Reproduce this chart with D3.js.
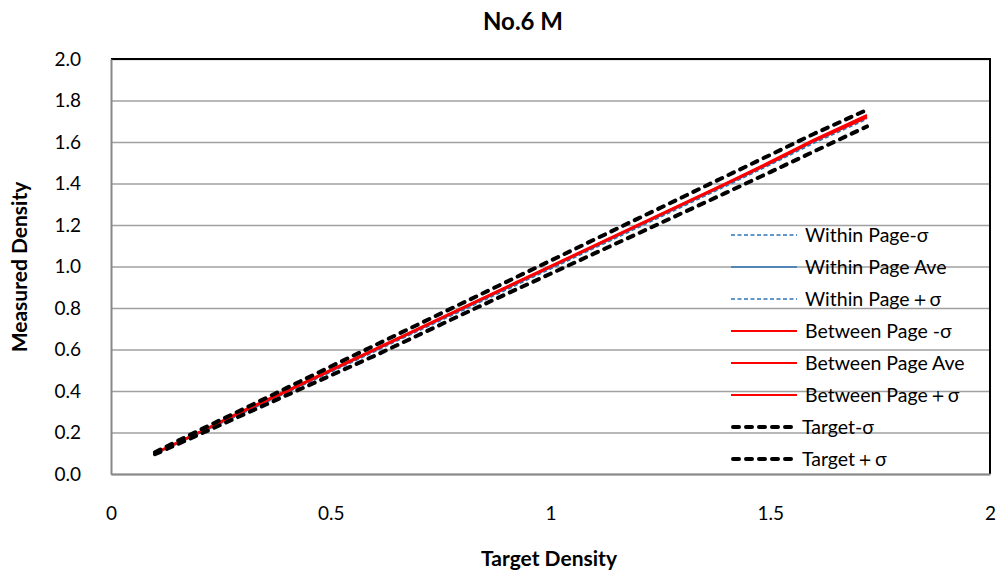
<!DOCTYPE html>
<html>
<head>
<meta charset="utf-8">
<script src="https://cdn.jsdelivr.net/npm/d3@7"></script>
<style>
  body { margin: 0; background: #fff; }
  text { font-family: Lato, "Open Sans", sans-serif; fill: #000; }
  .tick-text { font-size: 19px; }
  .title-text { font-size: 24px; font-weight: bold; }
  .axis-title { font-size: 21px; font-weight: bold; }
  .legend-text { font-size: 19.5px; }
</style>
</head>
<body>
<div id="chart"></div>
<script>
// target density on x, measured density on y
const targetDensity = [0.10, 0.20, 0.30, 0.40, 0.50, 0.60, 0.70, 0.80, 0.90, 1.00, 1.10, 1.20, 1.30, 1.40, 1.50, 1.60, 1.72];

const withinMinus = [0.095, 0.195, 0.293, 0.392, 0.490, 0.590, 0.690, 0.788, 0.888, 0.988, 1.088, 1.188, 1.288, 1.388, 1.490, 1.595, 1.710];
const withinAve   = [0.098, 0.198, 0.297, 0.396, 0.495, 0.595, 0.695, 0.794, 0.894, 0.994, 1.094, 1.194, 1.294, 1.394, 1.495, 1.602, 1.718];
const withinPlus  = [0.100, 0.201, 0.300, 0.400, 0.499, 0.599, 0.699, 0.799, 0.899, 0.999, 1.099, 1.199, 1.299, 1.399, 1.500, 1.607, 1.722];

const betweenMinus = [0.098, 0.198, 0.300, 0.397, 0.497, 0.597, 0.697, 0.797, 0.897, 0.997, 1.097, 1.197, 1.297, 1.397, 1.498, 1.605, 1.718];
const betweenAve   = [0.100, 0.200, 0.303, 0.400, 0.500, 0.600, 0.700, 0.800, 0.900, 1.000, 1.100, 1.200, 1.300, 1.400, 1.502, 1.609, 1.724];
const betweenPlus  = [0.102, 0.202, 0.306, 0.403, 0.503, 0.603, 0.703, 0.803, 0.903, 1.003, 1.103, 1.203, 1.303, 1.403, 1.506, 1.613, 1.730];

const targetMinus = [0.095, 0.190, 0.285, 0.380, 0.475, 0.570, 0.670, 0.770, 0.868, 0.965, 1.063, 1.160, 1.258, 1.356, 1.455, 1.555, 1.675];
const targetPlus  = [0.105, 0.210, 0.312, 0.415, 0.518, 0.620, 0.722, 0.824, 0.926, 1.028, 1.130, 1.232, 1.334, 1.436, 1.538, 1.640, 1.755];

const seriesNames = [
  "Within Page-σ", "Within Page Ave", "Within Page＋σ",
  "Between Page -σ", "Between Page Ave", "Between Page＋σ",
  "Target-σ", "Target＋σ"
];
const seriesValues = [withinMinus, withinAve, withinPlus, betweenMinus, betweenAve, betweenPlus, targetMinus, targetPlus];

const xTicks = [0, 0.5, 1, 1.5, 2];
const yTicks = [0, 0.2, 0.4, 0.6, 0.8, 1.0, 1.2, 1.4, 1.6, 1.8, 2.0];

const seriesStyle = [
  { color: "#2e75b6", width: 1.5, dash: "4,2.5", cap: "butt" },
  { color: "#2e75b6", width: 1.5, dash: null, cap: "butt" },
  { color: "#2e75b6", width: 1.5, dash: "4,2.5", cap: "butt" },
  { color: "#ff0000", width: 2, dash: null, cap: "butt" },
  { color: "#ff0000", width: 2, dash: null, cap: "butt" },
  { color: "#ff0000", width: 2, dash: null, cap: "butt" },
  { color: "#000000", width: 4, dash: "6,7", cap: "round" },
  { color: "#000000", width: 4, dash: "6,7", cap: "round" }
];

const W = 1000, H = 572;
const margin = { top: 59, right: 10, bottom: 98, left: 111 };
const width = W - margin.left - margin.right;
const height = H - margin.top - margin.bottom;

const svg = d3.select("#chart").append("svg")
  .attr("width", W)
  .attr("height", H);

const g = svg.append("g")
  .attr("transform", `translate(${margin.left},${margin.top})`);

const x = d3.scaleLinear().domain([0, 2]).range([0, width]);
const y = d3.scaleLinear().domain([0, 2]).range([height, 0]);

// Grid lines
g.append("g")
  .call(d3.axisLeft(y).tickValues(yTicks).tickSize(-width).tickFormat(""))
  .call(s => s.select(".domain").remove())
  .selectAll("line")
  .attr("stroke", "#a0a0a0")
  .attr("stroke-width", 1.5);

// plot border (top and right black)
g.append("path")
  .attr("d", `M0,0H${width}V${height}`)
  .attr("fill", "none")
  .attr("stroke", "#000")
  .attr("stroke-width", 2);

// Axes
const xAxis = g.append("g")
  .attr("transform", `translate(0,${height})`)
  .call(d3.axisBottom(x).tickValues(xTicks).tickSize(0).tickPadding(33).tickFormat(d3.format("")));
xAxis.select(".domain").attr("stroke", "#888").attr("stroke-width", 2);
xAxis.selectAll("text").attr("class", "tick-text");

const yAxis = g.append("g")
  .call(d3.axisLeft(y).tickValues(yTicks).tickSize(0).tickPadding(30).tickFormat(d3.format(".1f")));
yAxis.select(".domain").attr("stroke", "#888").attr("stroke-width", 2);
yAxis.selectAll("text").attr("class", "tick-text");

// Labels
svg.append("text")
  .attr("x", 523)
  .attr("y", 30)
  .attr("text-anchor", "middle")
  .attr("class", "title-text")
  .text("No.6 M");

svg.append("text")
  .attr("x", 549)
  .attr("y", 566)
  .attr("text-anchor", "middle")
  .attr("class", "axis-title")
  .text("Target Density");

svg.append("text")
  .attr("transform", "rotate(-90)")
  .attr("x", -267)
  .attr("y", 27)
  .attr("text-anchor", "middle")
  .attr("class", "axis-title")
  .text("Measured Density");

// Lines
const line = d3.line()
  .x((d, i) => x(targetDensity[i]))
  .y(d => y(d));

seriesValues.forEach((values, i) => {
  const st = seriesStyle[i];
  g.append("path")
    .datum(values)
    .attr("fill", "none")
    .attr("stroke", st.color)
    .attr("stroke-width", st.width)
    .attr("stroke-dasharray", st.dash)
    .attr("stroke-linecap", st.cap)
    .attr("d", line);
});

// Legend
const legend = svg.selectAll(".legend")
  .data(seriesNames)
  .enter().append("g")
  .attr("class", "legend")
  .attr("transform", (d, i) => `translate(731, ${235 + i * 32})`);

legend.append("line")
  .attr("x1", (d, i) => i >= 6 ? 2 : 0)
  .attr("x2", (d, i) => i >= 6 ? 64 : 66)
  .attr("stroke", (d, i) => seriesStyle[i].color)
  .attr("stroke-width", (d, i) => seriesStyle[i].width)
  .attr("stroke-dasharray", (d, i) => seriesStyle[i].dash)
  .attr("stroke-linecap", (d, i) => seriesStyle[i].cap);

legend.append("text")
  .attr("x", (d, i) => i >= 6 ? 71 : 74)
  .attr("y", 7)
  .attr("class", "legend-text")
  .text(d => d);
</script>
</body>
</html>
